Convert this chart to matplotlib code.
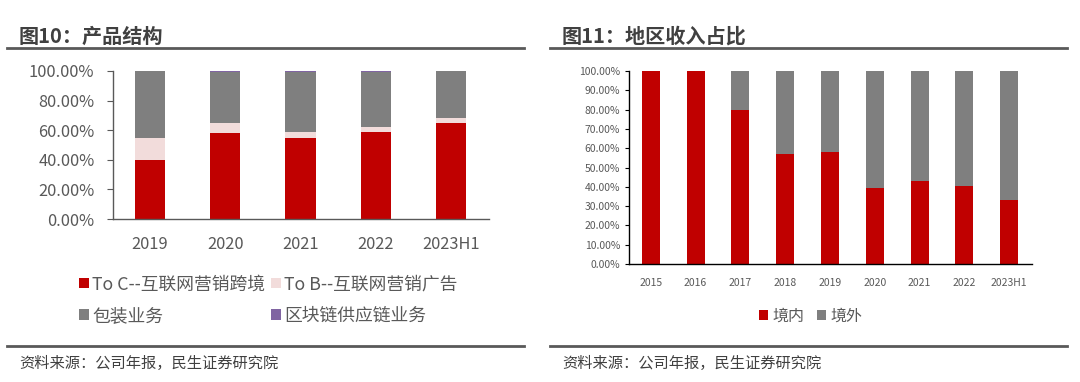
import matplotlib
matplotlib.use("Agg")
import matplotlib.pyplot as plt
from matplotlib.lines import Line2D
from matplotlib.ticker import FuncFormatter

plt.rcParams["font.family"] = ["Noto Sans CJK SC", "DejaVu Sans"]

# --------------------------------------------------------------
# Data (percent)
# --------------------------------------------------------------

product_years = ["2019", "2020", "2021", "2022", "2023H1"]
to_c = [39.6, 58.1, 55.0, 59.0, 64.9]
to_b = [15.2, 7.1, 3.6, 3.2, 3.4]
packaging = [45.2, 34.4, 41.0, 37.4, 31.7]
blockchain = [0.0, 0.4, 0.4, 0.4, 0.0]

region_years = ["2015", "2016", "2017", "2018", "2019", "2020", "2021", "2022", "2023H1"]
domestic = [100.0, 100.0, 80.0, 57.0, 58.1, 39.3, 43.0, 40.4, 33.4]
overseas = [0.0, 0.0, 20.0, 43.0, 41.9, 60.7, 57.0, 59.6, 66.6]

RED = "#C00000"
PINK = "#F2DCDB"
GREY = "#7F7F7F"
PURPLE = "#8064A2"
TXT = "#595959"
DARK = "#404040"

W, H = 1080, 382
fig = plt.figure(figsize=(W / 100, H / 100), dpi=100)


def fx(px):
    return px / W


def fy(py):
    return 1 - py / H


pct = FuncFormatter(lambda v, p: f"{v:.2f}%")

# --------------------------------------------------------------
# Left chart: product structure
# --------------------------------------------------------------

ax1 = fig.add_axes([fx(112.5), fy(219), fx(376), 148 / H])
x1 = range(len(product_years))
b_c = ax1.bar(x1, to_c, width=0.4, color=RED, label="To C--互联网营销跨境")
bot = list(to_c)
b_b = ax1.bar(x1, to_b, width=0.4, bottom=bot, color=PINK, label="To B--互联网营销广告")
bot = [a + b for a, b in zip(bot, to_b)]
b_p = ax1.bar(x1, packaging, width=0.4, bottom=bot, color=GREY, label="包装业务")
bot = [a + b for a, b in zip(bot, packaging)]
b_k = ax1.bar(x1, blockchain, width=0.4, bottom=bot, color=PURPLE, label="区块链供应链业务")

ax1.set_xlim(-0.5, len(product_years) - 0.5)
ax1.set_ylim(0, 100)
ax1.set_yticks(range(0, 101, 20))
ax1.yaxis.set_major_formatter(pct)
ax1.set_xticks(list(x1))
ax1.set_xticklabels(product_years)
for s in ["top", "right"]:
    ax1.spines[s].set_visible(False)
for s in ["left", "bottom"]:
    ax1.spines[s].set_color(TXT)
    ax1.spines[s].set_linewidth(1.0)
ax1.tick_params(axis="y", direction="out", length=4, color=TXT, labelsize=11.8, labelcolor=TXT, pad=9)
ax1.tick_params(axis="x", length=0, labelsize=11.8, labelcolor=TXT, pad=12)

fig.legend(handles=[b_c, b_p, b_b, b_k], ncol=2, loc="center left",
           bbox_to_anchor=(fx(72), fy(300)), frameon=False, fontsize=12.8,
           labelcolor=TXT, handlelength=0.55, handleheight=0.55, handletextpad=0.2,
           columnspacing=0.3, labelspacing=0.75, borderaxespad=0)

# --------------------------------------------------------------
# Right chart: revenue by region
# --------------------------------------------------------------

ax2 = fig.add_axes([fx(628.5), fy(264), fx(403), 193 / H])
x2 = range(len(region_years))
r_d = ax2.bar(x2, domestic, width=0.4, color=RED, label="境内")
r_o = ax2.bar(x2, overseas, width=0.4, bottom=domestic, color=GREY, label="境外")

ax2.set_xlim(-0.5, len(region_years) - 0.5)
ax2.set_ylim(0, 100)
ax2.set_yticks(range(0, 101, 10))
ax2.yaxis.set_major_formatter(pct)
ax2.set_xticks(list(x2))
ax2.set_xticklabels(region_years)
for s in ["top", "right"]:
    ax2.spines[s].set_visible(False)
for s in ["left", "bottom"]:
    ax2.spines[s].set_color("#000000")
    ax2.spines[s].set_linewidth(1.0)
ax2.tick_params(axis="y", direction="out", length=3, labelsize=7.5, labelcolor=TXT, pad=3)
ax2.tick_params(axis="x", length=0, labelsize=7.5, labelcolor=TXT, pad=10)

fig.legend(handles=[r_d, r_o], ncol=2, loc="center",
           bbox_to_anchor=(fx(811), fy(316)), frameon=False, fontsize=11.5,
           labelcolor=TXT, handlelength=0.55, handleheight=0.55, handletextpad=0.3,
           columnspacing=0.8, borderaxespad=0)

# --------------------------------------------------------------
# Titles, rules and source notes
# --------------------------------------------------------------

fig.text(fx(19), fy(36), "图10：产品结构", fontsize=14.5, fontweight="bold", color=DARK, va="center")
fig.text(fx(562), fy(36), "图11：地区收入占比", fontsize=14.5, fontweight="bold", color=DARK, va="center")

for x0, x1_ in [(7, 524), (550, 1067)]:
    fig.add_artist(Line2D([fx(x0), fx(x1_)], [fy(48), fy(48)], transform=fig.transFigure,
                          color=TXT, lw=2))
    fig.add_artist(Line2D([fx(x0), fx(x1_)], [fy(346), fy(346)], transform=fig.transFigure,
                          color=TXT, lw=2))

fig.text(fx(19), fy(363), "资料来源：公司年报，民生证券研究院", fontsize=11, color=DARK, va="center")
fig.text(fx(562), fy(363), "资料来源：公司年报，民生证券研究院", fontsize=11, color=DARK, va="center")

plt.savefig("out.png", dpi=100)
